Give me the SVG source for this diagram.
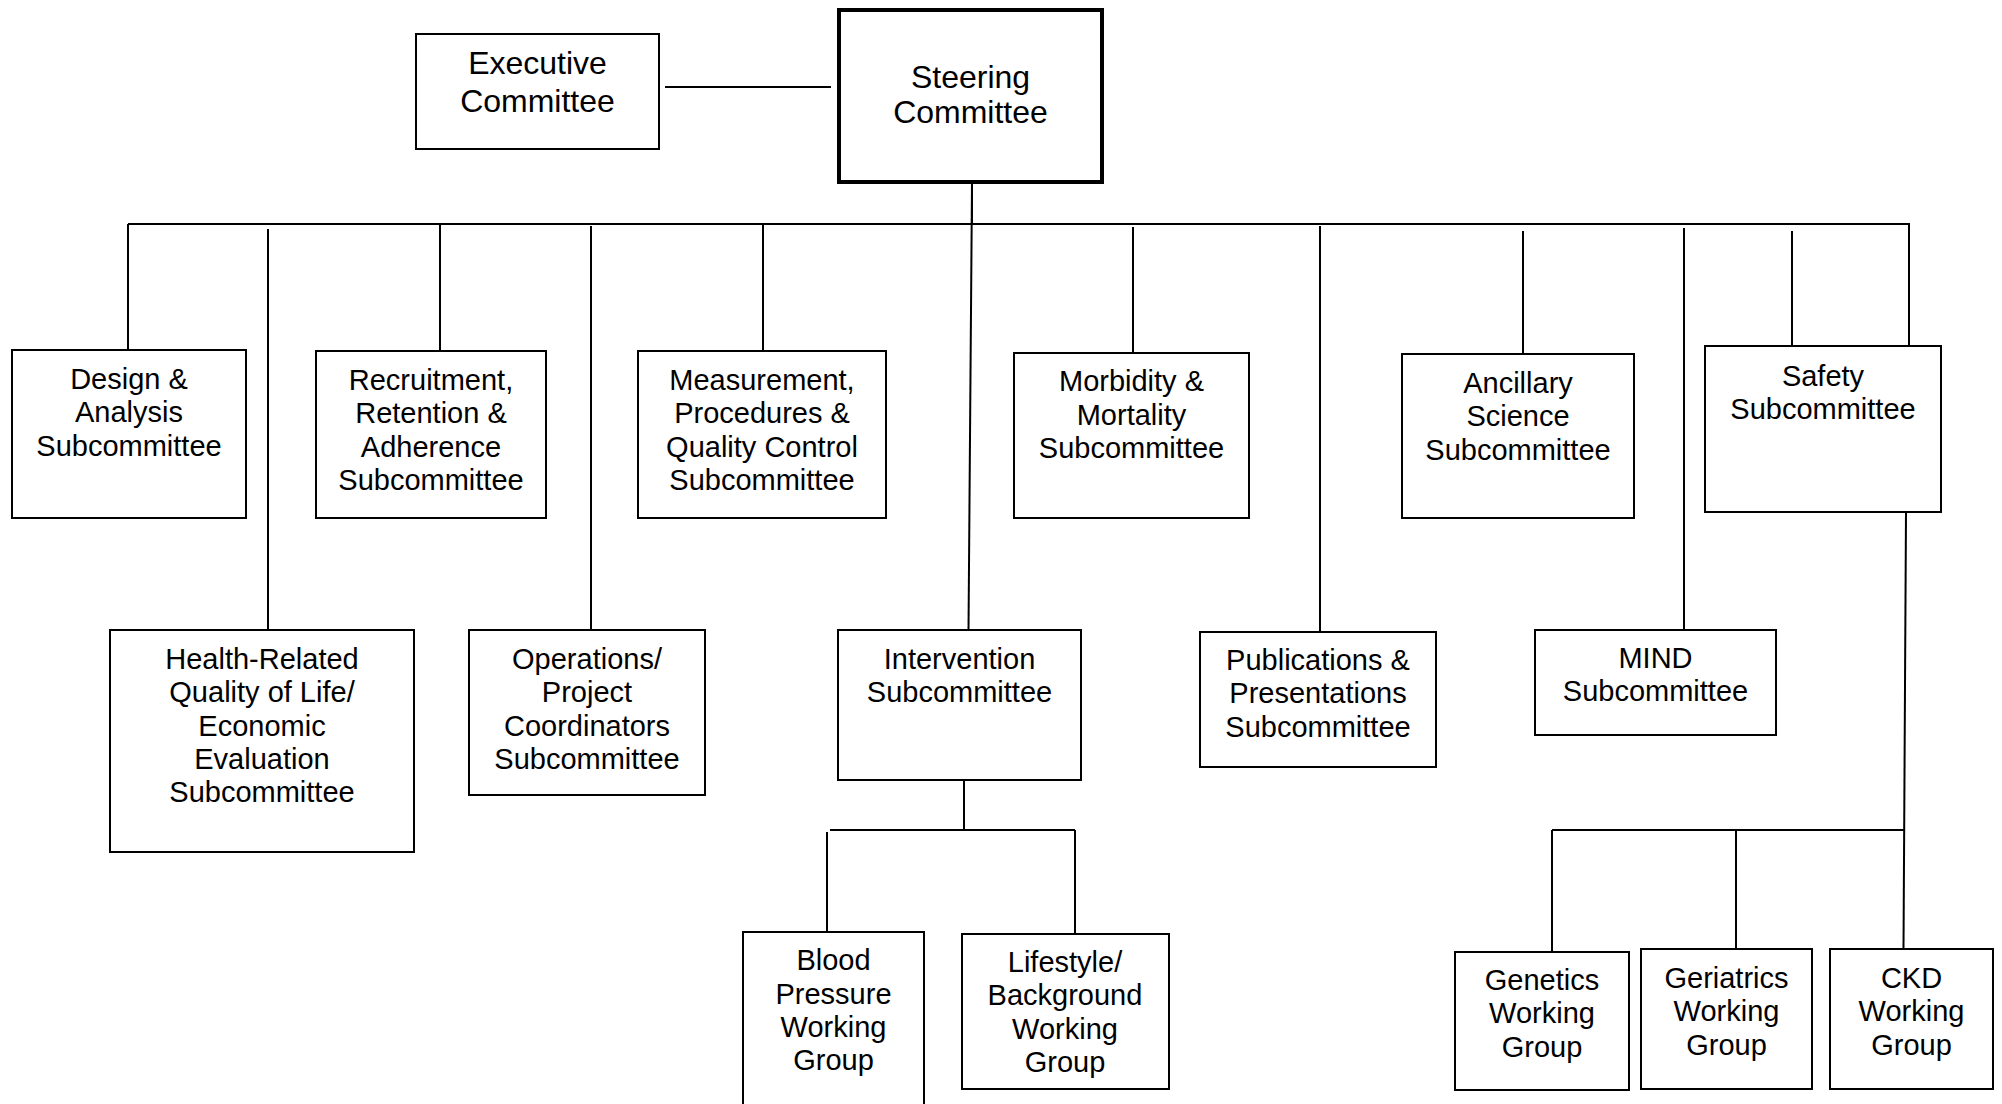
<svg xmlns="http://www.w3.org/2000/svg" width="2002" height="1104" viewBox="0 0 2002 1104">
<style>
  .box { fill: #ffffff; stroke: #000000; stroke-width: 2; }
  .thick { fill: #ffffff; stroke: #000000; stroke-width: 4; }
  .lbl { font-family: "Liberation Sans", Arial, sans-serif; font-size: 29px; fill: #000000; text-anchor: middle; }
  .big { font-size: 32px; }
  .conn line { stroke: #000000; stroke-width: 2; }
</style>
<rect x="0" y="0" width="2002" height="1104" fill="#ffffff"/>
<g id="connectors" class="conn">
  <line x1="665" y1="87" x2="831" y2="87"/>
  <line x1="972" y1="183" x2="972" y2="224"/>
  <line x1="128" y1="224" x2="1910" y2="224"/>
  <line x1="128" y1="224" x2="128" y2="350"/>
  <line x1="268" y1="229" x2="268" y2="630"/>
  <line x1="440" y1="224" x2="440" y2="351"/>
  <line x1="591" y1="226" x2="591" y2="630"/>
  <line x1="763" y1="224" x2="763" y2="351"/>
  <line x1="972" y1="183" x2="968.5" y2="630"/>
  <line x1="1133" y1="227" x2="1133" y2="353"/>
  <line x1="1320" y1="226" x2="1320" y2="632"/>
  <line x1="1523" y1="231" x2="1523" y2="354"/>
  <line x1="1684" y1="228" x2="1684" y2="630"/>
  <line x1="1792" y1="231" x2="1792" y2="346"/>
  <line x1="1909" y1="224" x2="1909" y2="346"/>
  <line x1="1906" y1="512" x2="1903.5" y2="949"/>
  <line x1="964" y1="780" x2="964" y2="830"/>
  <line x1="830" y1="830" x2="1075" y2="830"/>
  <line x1="827" y1="832" x2="827" y2="932"/>
  <line x1="1075" y1="830" x2="1075" y2="934"/>
  <line x1="1552" y1="830" x2="1904" y2="830"/>
  <line x1="1552" y1="830" x2="1552" y2="952"/>
  <line x1="1736" y1="830" x2="1736" y2="949"/>
</g>
<g id="executive">
  <rect class="box" x="416" y="34" width="243" height="115"/>
  <text class="lbl big" x="537.5" y="74">Executive</text>
  <text class="lbl big" x="537.5" y="112">Committee</text>
</g>
<g id="steering">
  <rect class="thick" x="839" y="10" width="263" height="172"/>
  <text class="lbl big" x="970.5" y="87.5">Steering</text>
  <text class="lbl big" x="970.5" y="123">Committee</text>
</g>
<g id="design">
  <rect class="box" x="12" y="350" width="234" height="168"/>
  <text class="lbl" x="129" y="389">Design &amp;</text>
  <text class="lbl" x="129" y="422">Analysis</text>
  <text class="lbl" x="129" y="456">Subcommittee</text>
</g>
<g id="recruitment">
  <rect class="box" x="316" y="351" width="230" height="167"/>
  <text class="lbl" x="431" y="390">Recruitment,</text>
  <text class="lbl" x="431" y="423">Retention &amp;</text>
  <text class="lbl" x="431" y="457">Adherence</text>
  <text class="lbl" x="431" y="490">Subcommittee</text>
</g>
<g id="measurement">
  <rect class="box" x="638" y="351" width="248" height="167"/>
  <text class="lbl" x="762" y="390">Measurement,</text>
  <text class="lbl" x="762" y="423">Procedures &amp;</text>
  <text class="lbl" x="762" y="457">Quality Control</text>
  <text class="lbl" x="762" y="490">Subcommittee</text>
</g>
<g id="morbidity">
  <rect class="box" x="1014" y="353" width="235" height="165"/>
  <text class="lbl" x="1131.5" y="391">Morbidity &amp;</text>
  <text class="lbl" x="1131.5" y="425">Mortality</text>
  <text class="lbl" x="1131.5" y="458">Subcommittee</text>
</g>
<g id="ancillary">
  <rect class="box" x="1402" y="354" width="232" height="164"/>
  <text class="lbl" x="1518" y="393">Ancillary</text>
  <text class="lbl" x="1518" y="426">Science</text>
  <text class="lbl" x="1518" y="460">Subcommittee</text>
</g>
<g id="safety">
  <rect class="box" x="1705" y="346" width="236" height="166"/>
  <text class="lbl" x="1823" y="386">Safety</text>
  <text class="lbl" x="1823" y="419">Subcommittee</text>
</g>
<g id="health">
  <rect class="box" x="110" y="630" width="304" height="222"/>
  <text class="lbl" x="262" y="669">Health-Related</text>
  <text class="lbl" x="262" y="702">Quality of Life/</text>
  <text class="lbl" x="262" y="735.5">Economic</text>
  <text class="lbl" x="262" y="769">Evaluation</text>
  <text class="lbl" x="262" y="802">Subcommittee</text>
</g>
<g id="operations">
  <rect class="box" x="469" y="630" width="236" height="165"/>
  <text class="lbl" x="587" y="669">Operations/</text>
  <text class="lbl" x="587" y="702">Project</text>
  <text class="lbl" x="587" y="736">Coordinators</text>
  <text class="lbl" x="587" y="769">Subcommittee</text>
</g>
<g id="intervention">
  <rect class="box" x="838" y="630" width="243" height="150"/>
  <text class="lbl" x="959.5" y="669">Intervention</text>
  <text class="lbl" x="959.5" y="702">Subcommittee</text>
</g>
<g id="publications">
  <rect class="box" x="1200" y="632" width="236" height="135"/>
  <text class="lbl" x="1318" y="670">Publications &amp;</text>
  <text class="lbl" x="1318" y="703">Presentations</text>
  <text class="lbl" x="1318" y="737">Subcommittee</text>
</g>
<g id="mind">
  <rect class="box" x="1535" y="630" width="241" height="105"/>
  <text class="lbl" x="1655.5" y="668">MIND</text>
  <text class="lbl" x="1655.5" y="701">Subcommittee</text>
</g>
<g id="bloodpressure">
  <rect class="box" x="743" y="932" width="181" height="180"/>
  <text class="lbl" x="833.5" y="970">Blood</text>
  <text class="lbl" x="833.5" y="1003.5">Pressure</text>
  <text class="lbl" x="833.5" y="1037">Working</text>
  <text class="lbl" x="833.5" y="1070">Group</text>
</g>
<g id="lifestyle">
  <rect class="box" x="962" y="934" width="207" height="155"/>
  <text class="lbl" x="1065" y="972">Lifestyle/</text>
  <text class="lbl" x="1065" y="1005">Background</text>
  <text class="lbl" x="1065" y="1039">Working</text>
  <text class="lbl" x="1065" y="1072">Group</text>
</g>
<g id="genetics">
  <rect class="box" x="1455" y="952" width="174" height="138"/>
  <text class="lbl" x="1542" y="990">Genetics</text>
  <text class="lbl" x="1542" y="1023">Working</text>
  <text class="lbl" x="1542" y="1057">Group</text>
</g>
<g id="geriatrics">
  <rect class="box" x="1641" y="949" width="171" height="140"/>
  <text class="lbl" x="1726.5" y="988">Geriatrics</text>
  <text class="lbl" x="1726.5" y="1021">Working</text>
  <text class="lbl" x="1726.5" y="1055">Group</text>
</g>
<g id="ckd">
  <rect class="box" x="1830" y="949" width="163" height="140"/>
  <text class="lbl" x="1911.5" y="988">CKD</text>
  <text class="lbl" x="1911.5" y="1021">Working</text>
  <text class="lbl" x="1911.5" y="1055">Group</text>
</g>
</svg>
